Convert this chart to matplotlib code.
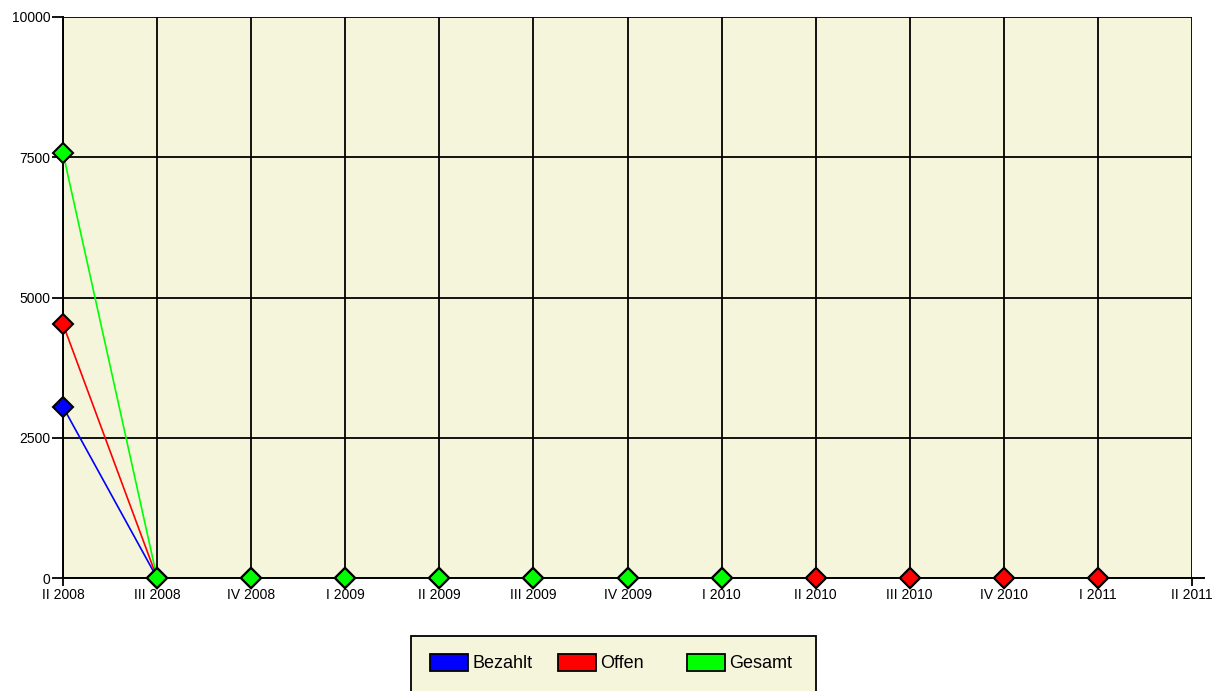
import matplotlib
matplotlib.use("Agg")
import matplotlib.pyplot as plt
import matplotlib.patches as mpatches
from matplotlib.lines import Line2D
import numpy as np

quarters = ["II 2008", "III 2008", "IV 2008", "I 2009", "II 2009", "III 2009",
            "IV 2009", "I 2010", "II 2010", "III 2010", "IV 2010", "I 2011", "II 2011"]
bezahlt = [3050, 0, 0, 0, 0, 0, 0, 0, 0, 0, 0, 0]
offen = [4525, 0, 0, 0, 0, 0, 0, 0, 0, 0, 0, 0]
gesamt = [7575, 0, 0, 0, 0, 0, 0, 0]
y_ticks = [0, 2500, 5000, 7500, 10000]

series = [("Bezahlt", bezahlt, "#0000FF"), ("Offen", offen, "#FF0000"), ("Gesamt", gesamt, "#00FF00")]

plt.rcParams['font.family'] = ['Liberation Sans', 'DejaVu Sans']

fig = plt.figure(figsize=(12.21, 6.91), dpi=100)
ax = fig.add_axes([63/1221, 1-578/691, (1192-63)/1221, (578-17)/691])
ax.set_facecolor("#F5F5DC")

for i, (name, vals, col) in enumerate(series):
    x = np.arange(len(vals))
    ax.plot(x, vals, color=col, lw=1.2, zorder=2)
for i, (name, vals, col) in enumerate(series):
    x = np.arange(len(vals))
    ax.plot(x, vals, linestyle="none", marker="D", markersize=10.5,
            markerfacecolor=col, markeredgecolor="black", markeredgewidth=1.5,
            clip_on=False, zorder=3 + i * 0.1)

ax.set_xlim(0, len(quarters) - 1)
ax.set_ylim(0, 10000)
ax.set_xticks(np.arange(len(quarters)))
ax.set_xticklabels(quarters, fontsize=10)
ax.set_yticks(y_ticks)
ax.set_yticklabels([str(v) for v in y_ticks], fontsize=10)
ax.grid(True, color="black", lw=1.3, zorder=1)
ax.set_axisbelow(True)
for s in ["top", "right"]:
    ax.spines[s].set_visible(False)
for s in ["left", "bottom"]:
    ax.spines[s].set_linewidth(1.4)
    ax.spines[s].set_zorder(2.5)
ax.tick_params(axis="y", length=8, width=1.3, pad=1)
ax.tick_params(axis="x", length=6, width=1.3, pad=1)
ax.add_line(Line2D([1.0, 1.011], [0, 0], transform=ax.transAxes, color="black",
                   lw=1.4, clip_on=False, zorder=2.5))

# legend box
fig.patches.append(mpatches.Rectangle((411/1221, -0.05), 405/1221, 1-636/691+0.05,
                                      transform=fig.transFigure, facecolor="#F5F5DC",
                                      edgecolor="black", lw=1.3, zorder=0))
leg_x = [430/1221, 558/1221, 687/1221]
for (name, vals, col), lx in zip(series, leg_x):
    h = mpatches.Patch(facecolor=col, edgecolor="black", lw=1.3, label=name)
    fig.legend(handles=[h], loc="center left", bbox_to_anchor=(lx, 1-663/691),
               frameon=False, borderpad=0, borderaxespad=0, fontsize=13,
               handlelength=2.1, handleheight=1.1, handletextpad=0.25)

fig.savefig("out.png", dpi=100)
